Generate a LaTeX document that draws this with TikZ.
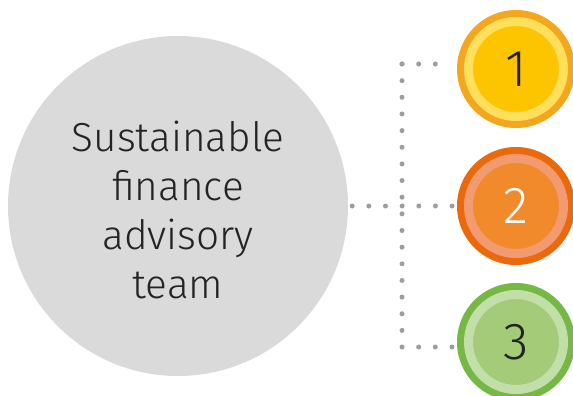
\documentclass[tikz,border=0pt]{standalone}
\usepackage{fontspec}
\setmainfont{Fira Sans}[UprightFont={* Light}]
\definecolor{dotgray}{HTML}{9D9D9D}
\definecolor{biggray}{HTML}{DADADA}
\definecolor{txt}{HTML}{232323}
\definecolor{aout}{HTML}{F4A71D}
\definecolor{alight}{HTML}{FFDF5B}
\definecolor{ain}{HTML}{FDC400}
\definecolor{bout}{HTML}{EB690B}
\definecolor{blight}{HTML}{F29A70}
\definecolor{bin}{HTML}{F08A2B}
\definecolor{cout}{HTML}{75B843}
\definecolor{clight}{HTML}{C3DFA9}
\definecolor{cin}{HTML}{A3CB78}
\tikzset{
  bigcirc/.style={circle, fill=biggray, minimum size=340pt, inner sep=0pt},
  bigtext/.style={text=txt, align=center, font=\fontsize{40.5}{49}\selectfont},
  ringout/.style={circle, fill=#1, minimum size=118pt, inner sep=0pt},
  ringin/.style 2 args={circle, fill=#1, draw=#2, line width=9pt, minimum size=95pt, inner sep=0pt,
    font=\fontsize{52}{60}\selectfont},
  dotline/.style={draw=dotgray, line width=5pt, line cap=round, dash pattern=on 0pt off 16.65pt}
}
\begin{document}
\begin{tikzpicture}[x=1pt,y=-1pt]
\useasboundingbox (0,0) rectangle (573,396);
\node[bigcirc] (team) at (178,206) {};
\node[bigtext] (label) at (178,210) {Sustainable\\finance\\advisory\\team};
\node[ringout=aout] (c1) at (516,69) {};
\node[ringin={ain}{alight}, text=txt] (n1) at (c1) {1};
\node[ringout=bout] (c2) at (516,206) {};
\node[ringin={bin}{blight}, text=white] (n2) at (c2) {2};
\node[ringout=cout] (c3) at (516,342) {};
\node[ringin={cin}{clight}, text=txt] (n3) at (c3) {3};
\coordinate (jt) at (402,64);
\coordinate (jb) at (402,347);
\path[dotline] ([xshift=4pt]team.east) -- ([xshift=-3pt]c2.west);
\path[dotline] (jt) -- (jb);
\path[dotline] (jt) -- ([xshift=-5pt]jt -| c1.west);
\path[dotline] (jb) -- ([xshift=-4pt]jb -| c3.west);
\end{tikzpicture}
\end{document}
